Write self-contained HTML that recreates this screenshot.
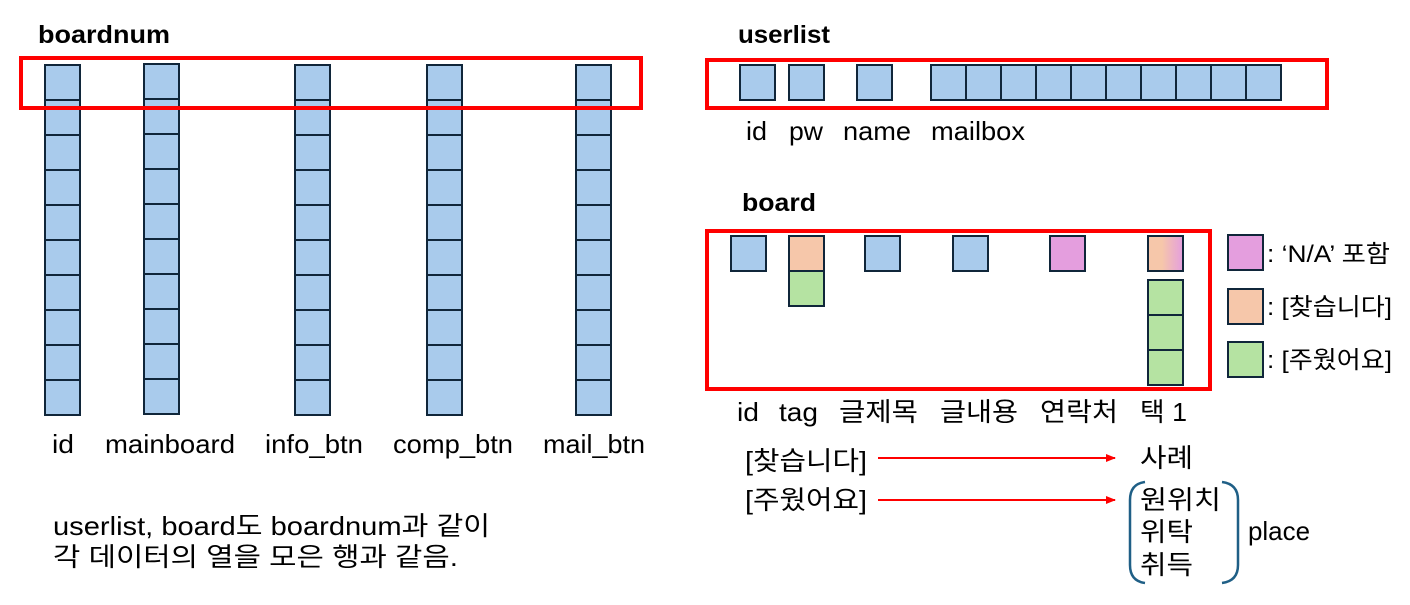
<!DOCTYPE html>
<html><head><meta charset="utf-8"><style>
html,body{margin:0;padding:0;background:#fff;}
svg{display:block;font-family:"Liberation Sans","Noto Sans CJK KR",sans-serif;}
</style></head><body>
<svg width="1410" height="605" viewBox="0 0 1410 605" xmlns="http://www.w3.org/2000/svg">
<defs>
<g id="col">
<rect x="0" y="0" width="35" height="350" fill="#a9cbec" stroke="#10263a" stroke-width="2"/>
<path d="M0 35H35M0 70H35M0 105H35M0 140H35M0 175H35M0 210H35M0 245H35M0 280H35M0 315H35" stroke="#10263a" stroke-width="2"/>
</g>
<linearGradient id="gr" x1="0" x2="1" y1="0" y2="0"><stop offset="0.4" stop-color="#f6c7aa"/><stop offset="1" stop-color="#e49ede"/></linearGradient>
<marker id="ar" markerWidth="10" markerHeight="10" refX="9" refY="5" orient="auto" markerUnits="userSpaceOnUse"><path d="M0 1L10 5L0 9z" fill="#ff0000"/></marker>
</defs>
<g font-size="25" font-weight="bold" fill="#000" lengthAdjust="spacingAndGlyphs">
<text x="38" y="43" textLength="132" lengthAdjust="spacingAndGlyphs">boardnum</text>
<text x="738" y="43" textLength="92" lengthAdjust="spacingAndGlyphs">userlist</text>
<text x="742" y="211" textLength="74" lengthAdjust="spacingAndGlyphs">board</text>
</g>
<use href="#col" x="45" y="65"/>
<use href="#col" x="144" y="64"/>
<use href="#col" x="295" y="65"/>
<use href="#col" x="427" y="65"/>
<use href="#col" x="576" y="65"/>
<rect x="21" y="58" width="620" height="50" fill="none" stroke="#ff0000" stroke-width="4"/>
<g font-size="26" fill="#000">
<text x="52" y="453" textLength="22" lengthAdjust="spacingAndGlyphs">id</text>
<text x="105" y="453" textLength="130" lengthAdjust="spacingAndGlyphs">mainboard</text>
<text x="265" y="453" textLength="98" lengthAdjust="spacingAndGlyphs">info_btn</text>
<text x="393" y="453" textLength="120" lengthAdjust="spacingAndGlyphs">comp_btn</text>
<text x="543" y="453" textLength="102" lengthAdjust="spacingAndGlyphs">mail_btn</text>
<text x="53" y="535" textLength="437" lengthAdjust="spacingAndGlyphs">userlist, board도 boardnum과 같이</text>
<text x="53" y="566" textLength="405" lengthAdjust="spacingAndGlyphs">각 데이터의 열을 모은 행과 같음.</text>
</g>
<g fill="#a9cbec" stroke="#10263a" stroke-width="2">
<rect x="740" y="65" width="35" height="35"/>
<rect x="789" y="65" width="35" height="35"/>
<rect x="857" y="65" width="35" height="35"/>
<rect x="931" y="65" width="350" height="35"/>
</g>
<path d="M966 65V100M1001 65V100M1036 65V100M1071 65V100M1106 65V100M1141 65V100M1176 65V100M1211 65V100M1246 65V100" stroke="#10263a" stroke-width="2"/>
<rect x="707" y="60" width="620" height="48" fill="none" stroke="#ff0000" stroke-width="4"/>
<g font-size="26" fill="#000">
<text x="746" y="140" textLength="21" lengthAdjust="spacingAndGlyphs">id</text>
<text x="789" y="140" textLength="34" lengthAdjust="spacingAndGlyphs">pw</text>
<text x="843" y="140" textLength="68" lengthAdjust="spacingAndGlyphs">name</text>
<text x="931" y="140" textLength="94" lengthAdjust="spacingAndGlyphs">mailbox</text>
</g>
<g stroke="#10263a" stroke-width="2">
<rect x="731" y="236" width="35" height="35" fill="#a9cbec"/>
<rect x="789" y="236" width="35" height="35" fill="#f6c7aa"/>
<rect x="789" y="271" width="35" height="35" fill="#b5e3a2"/>
<rect x="865" y="236" width="35" height="35" fill="#a9cbec"/>
<rect x="953" y="236" width="35" height="35" fill="#a9cbec"/>
<rect x="1050" y="236" width="35" height="35" fill="#e49ede"/>
<rect x="1148" y="236" width="35" height="35" fill="url(#gr)"/>
<rect x="1148" y="280" width="35" height="35" fill="#b5e3a2"/>
<rect x="1148" y="315" width="35" height="35" fill="#b5e3a2"/>
<rect x="1148" y="350" width="35" height="35" fill="#b5e3a2"/>
<rect x="1228" y="235" width="35" height="35" fill="#e49ede"/>
<rect x="1228" y="289" width="35" height="35" fill="#f6c7aa"/>
<rect x="1228" y="342" width="35" height="35" fill="#b5e3a2"/>
</g>
<rect x="707" y="231" width="503" height="158" fill="none" stroke="#ff0000" stroke-width="4"/>
<g font-size="24" fill="#000">
<text x="1267" y="262" textLength="123" lengthAdjust="spacingAndGlyphs">: ‘N/A’ 포함</text>
<text x="1267" y="315" textLength="125" lengthAdjust="spacingAndGlyphs">: [찾습니다]</text>
<text x="1267" y="368" textLength="125" lengthAdjust="spacingAndGlyphs">: [주웠어요]</text>
</g>
<g font-size="26" fill="#000">
<text x="737" y="421" textLength="22" lengthAdjust="spacingAndGlyphs">id</text>
<text x="779" y="421" textLength="39" lengthAdjust="spacingAndGlyphs">tag</text>
<text x="839" y="421" textLength="79" lengthAdjust="spacingAndGlyphs">글제목</text>
<text x="940" y="421" textLength="78" lengthAdjust="spacingAndGlyphs">글내용</text>
<text x="1040" y="421" textLength="78" lengthAdjust="spacingAndGlyphs">연락처</text>
<text x="1140" y="421" textLength="47" lengthAdjust="spacingAndGlyphs">택 1</text>
<text x="745" y="470" textLength="122" lengthAdjust="spacingAndGlyphs">[찾습니다]</text>
<text x="745" y="509" textLength="122" lengthAdjust="spacingAndGlyphs">[주웠어요]</text>
<text x="1140" y="467" textLength="53" lengthAdjust="spacingAndGlyphs">사례</text>
<text x="1140" y="509" textLength="81" lengthAdjust="spacingAndGlyphs">원위치</text>
<text x="1140" y="541" textLength="53" lengthAdjust="spacingAndGlyphs">위탁</text>
<text x="1140" y="574" textLength="53" lengthAdjust="spacingAndGlyphs">취득</text>
<text x="1248" y="540" textLength="62" lengthAdjust="spacingAndGlyphs">place</text>
</g>
<line x1="878" y1="458" x2="1115" y2="458" stroke="#ff0000" stroke-width="2" marker-end="url(#ar)"/>
<line x1="878" y1="500" x2="1115" y2="500" stroke="#ff0000" stroke-width="2" marker-end="url(#ar)"/>
<path d="M1145 482Q1130 484 1130 500V565Q1130 581 1145 583" fill="none" stroke="#1f5f86" stroke-width="2.5"/>
<path d="M1222 482Q1238 484 1238 500V565Q1238 581 1222 583" fill="none" stroke="#1f5f86" stroke-width="2.5"/>
</svg>
</body></html>
